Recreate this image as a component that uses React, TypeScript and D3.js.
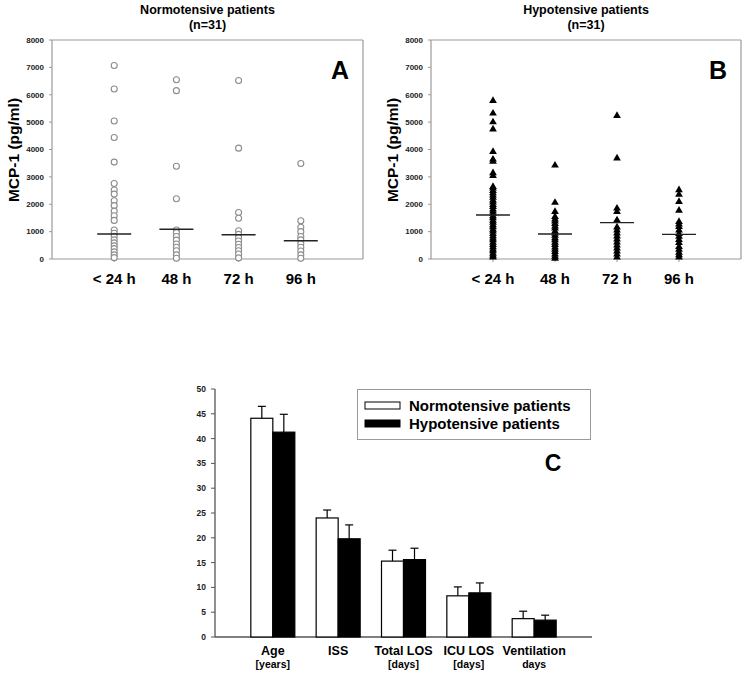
import React from "react";
import * as d3 from "d3";

const timeCats = ["< 24 h", "48 h", "72 h", "96 h"];
const yTicksMcp = [0, 1000, 2000, 3000, 4000, 5000, 6000, 7000, 8000];

const normo24 = [7070, 6210, 5040, 4440, 3540, 2760, 2520, 2370, 2130, 1950, 1750, 1580, 1410, 1060, 940, 830, 700, 590, 480, 380, 260, 150, 50];
const normo48 = [6550, 6150, 3390, 2200, 1060, 960, 820, 690, 550, 430, 300, 150, 30];
const normo72 = [6520, 4050, 1700, 1490, 1030, 900, 780, 660, 540, 420, 300, 180, 40];
const normo96 = [3490, 1400, 1160, 1000, 820, 700, 560, 430, 290, 150, 30];
const normoMedian = [913, 1085, 888, 668];

const hypo24 = [5780, 5320, 5000, 4740, 3920, 3640, 3560, 3140, 3040, 2640, 2580, 2490, 2410, 2330, 2250, 2150, 2070, 1980, 1910, 1820, 1740, 1660, 1570, 1500, 1410, 1330, 1240, 1170, 1080, 1010, 920, 840, 760, 690, 600, 520, 440, 360, 290, 200, 130, 60];
const hypo48 = [3420, 2060, 1730, 1540, 1450, 1380, 1290, 1200, 1120, 1010, 940, 860, 770, 690, 600, 520, 430, 350, 260, 170, 90, 20];
const hypo72 = [5230, 3680, 1850, 1730, 1420, 1160, 1050, 940, 830, 720, 610, 500, 390, 280, 170, 60];
const hypo96 = [2520, 2360, 2090, 1770, 1360, 1270, 1180, 1050, 920, 820, 700, 590, 450, 350, 240, 150, 60];
const hypoMedian = [1607, 913, 1327, 901];

const groupCats = ["Age", "ISS", "Total LOS", "ICU LOS", "Ventilation"];
const groupSub = ["[years]", "", "[days]", "[days]", "days"];
const normoMeans = [44.1, 24.0, 15.3, 8.3, 3.7];
const normoErr = [46.5, 25.6, 17.5, 10.1, 5.2];
const hypoMeans = [41.3, 19.8, 15.6, 8.9, 3.4];
const hypoErr = [44.9, 22.6, 17.9, 10.9, 4.4];
const cTicks = [0, 5, 10, 15, 20, 25, 30, 35, 40, 45, 50];
const legendLabels = ["Normotensive patients", "Hypotensive patients"];

const FONT = "'Liberation Sans', Arial, sans-serif";
const GRAY = "#9a9a9a";

function ScatterPanel({ x0, x1, title, letter, series, medians, marker }: any) {
  const y = d3.scaleLinear().domain([0, 8000]).range([259, 40]);
  const x = d3.scaleLinear().domain([0, 5]).range([x0, x1]);
  const tri = d3.symbol(d3.symbolTriangle, 26)() as string;
  const cx = (x0 + x1) / 2;
  return (
    <g>
      <text x={cx} y={14} textAnchor="middle" fontFamily={FONT} fontWeight="bold" fontSize={12.5}>{title}</text>
      <text x={cx} y={29} textAnchor="middle" fontFamily={FONT} fontWeight="bold" fontSize={12.5}>(n=31)</text>
      <text transform={`translate(${x0 - 33},${150}) rotate(-90)`} textAnchor="middle" fontFamily={FONT} fontWeight="bold" fontSize={15.5}>MCP-1 (pg/ml)</text>
      <line x1={x0} x2={x1} y1={y(8000)} y2={y(8000)} stroke={GRAY} strokeWidth={1.2} />
      <line x1={x1} x2={x1} y1={y(8000)} y2={y(0)} stroke={GRAY} strokeWidth={1.2} />
      <line x1={x0} x2={x0} y1={y(8000)} y2={y(0)} stroke={GRAY} strokeWidth={1.2} />
      <line x1={x0} x2={x1} y1={y(0)} y2={y(0)} stroke={GRAY} strokeWidth={1.2} />
      {yTicksMcp.map((t) => (
        <g key={t}>
          <line x1={x0 - 3} x2={x0} y1={y(t)} y2={y(t)} stroke={GRAY} />
          <text x={x0 - 8} y={y(t) + 2.8} textAnchor="end" fontFamily={FONT} fontWeight="bold" fontSize={8} fill="#222">{t}</text>
        </g>
      ))}
      {timeCats.map((c, i) => (
        <g key={c}>
          <line x1={x(i + 1)} x2={x(i + 1)} y1={y(0)} y2={y(0) + 3} stroke={GRAY} />
          <text x={x(i + 1)} y={284} textAnchor="middle" fontFamily={FONT} fontWeight="bold" fontSize={15}>{c}</text>
        </g>
      ))}
      {series.map((vals: number[], i: number) => (
        <g key={i}>
          {vals.map((v, j) =>
            marker === "circle" ? (
              <circle key={j} cx={x(i + 1)} cy={y(v)} r={3} fill="white" stroke="#8c8c8c" strokeWidth={1.1} />
            ) : (
              <path key={j} d={tri} transform={`translate(${x(i + 1)},${y(v)})`} fill="#000" />
            )
          )}
          <line x1={x(i + 1) - 17} x2={x(i + 1) + 17} y1={y(medians[i])} y2={y(medians[i])} stroke="#222" strokeWidth={1.4} />
        </g>
      ))}
      <text x={x1 - 23} y={79} textAnchor="middle" fontFamily={FONT} fontWeight="bold" fontSize={25}>{letter}</text>
    </g>
  );
}

function BarPanel() {
  const y = d3.scaleLinear().domain([0, 50]).range([637, 389]);
  const x = d3.scalePoint().domain(groupCats).range([215, 592]).padding(0.885);
  const bw = 22;
  return (
    <g>
      <line x1={215} x2={215} y1={389} y2={637} stroke="#555" strokeWidth={1.3} />
      <line x1={215} x2={592} y1={637} y2={637} stroke="#555" strokeWidth={1.3} />
      {cTicks.map((t) => (
        <g key={t}>
          <line x1={211} x2={215} y1={y(t)} y2={y(t)} stroke="#555" />
          <text x={206} y={y(t) + 3} textAnchor="end" fontFamily={FONT} fontWeight="bold" fontSize={8.5} fill="#222">{t}</text>
        </g>
      ))}
      {groupCats.map((c, i) => {
        const cx = x(c) as number;
        return (
          <g key={c}>
            <line x1={cx - bw / 2} x2={cx - bw / 2} y1={y(normoMeans[i])} y2={y(normoErr[i])} stroke="#000" strokeWidth={1.2} />
            <line x1={cx - bw / 2 - 4} x2={cx - bw / 2 + 4} y1={y(normoErr[i])} y2={y(normoErr[i])} stroke="#000" strokeWidth={1.2} />
            <line x1={cx + bw / 2} x2={cx + bw / 2} y1={y(hypoMeans[i])} y2={y(hypoErr[i])} stroke="#000" strokeWidth={1.2} />
            <line x1={cx + bw / 2 - 4} x2={cx + bw / 2 + 4} y1={y(hypoErr[i])} y2={y(hypoErr[i])} stroke="#000" strokeWidth={1.2} />
            <rect x={cx - bw} y={y(normoMeans[i])} width={bw} height={y(0) - y(normoMeans[i])} fill="white" stroke="#000" strokeWidth={1.2} />
            <rect x={cx} y={y(hypoMeans[i])} width={bw} height={y(0) - y(hypoMeans[i])} fill="#000" stroke="#000" strokeWidth={1.2} />
            <text x={cx} y={655} textAnchor="middle" fontFamily={FONT} fontWeight="bold" fontSize={12.5}>{c}</text>
            <text x={cx} y={668} textAnchor="middle" fontFamily={FONT} fontWeight="bold" fontSize={10.5}>{groupSub[i]}</text>
          </g>
        );
      })}
      <rect x={357.5} y={389.5} width={233} height={50} fill="white" stroke={GRAY} strokeWidth={1} />
      <rect x={365} y={402} width={35} height={7} fill="white" stroke="#000" strokeWidth={1} />
      <rect x={365} y={420} width={35} height={7} fill="#000" stroke="#000" strokeWidth={1} />
      <text x={409} y={411} fontFamily={FONT} fontWeight="bold" fontSize={15}>{legendLabels[0]}</text>
      <text x={409} y={429} fontFamily={FONT} fontWeight="bold" fontSize={15}>{legendLabels[1]}</text>
      <text x={553} y={471} textAnchor="middle" fontFamily={FONT} fontWeight="bold" fontSize={23}>C</text>
    </g>
  );
}

export default function App() {
  return (
    <svg width={748} height={675} style={{ position: "absolute", left: 0, top: 0, display: "block", background: "white" }}>
      <rect width={748} height={675} fill="white" />
      <ScatterPanel x0={52} x1={363} title="Normotensive patients" letter="A" series={[normo24, normo48, normo72, normo96]} medians={normoMedian} marker="circle" />
      <ScatterPanel x0={431} x1={741} title="Hypotensive patients" letter="B" series={[hypo24, hypo48, hypo72, hypo96]} medians={hypoMedian} marker="triangle" />
      <BarPanel />
    </svg>
  );
}
